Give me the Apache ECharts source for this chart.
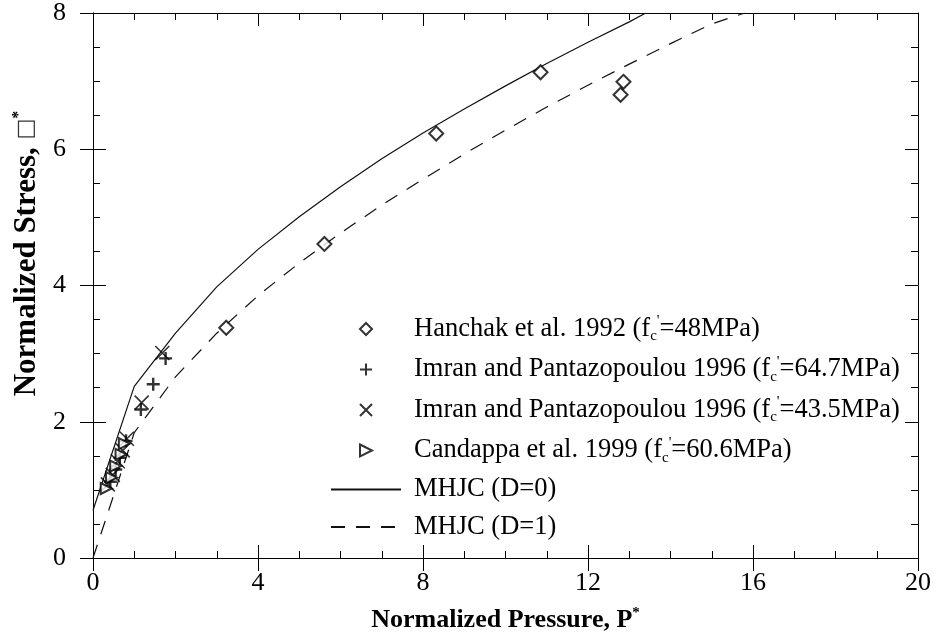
<!DOCTYPE html>
<html>
<head>
<meta charset="utf-8">
<script src="https://cdn.jsdelivr.net/npm/echarts@6/dist/echarts.min.js"></script>
<style>
html,body{margin:0;padding:0;background:#fff;}
#chart{width:937px;height:642px;}
</style>
</head>
<body>
<div id="chart"></div>
<script>
// ---- data ----
const xTicks = [0, 4, 8, 12, 16, 20];
const yTicks = [0, 2, 4, 6, 8];

const seriesNames = [
  "Hanchak et al. 1992 (fc'=48MPa)",
  "Imran and Pantazopoulou 1996 (fc'=64.7MPa)",
  "Imran and Pantazopoulou 1996 (fc'=43.5MPa)",
  "Candappa et al. 1999 (fc'=60.6MPa)",
  "MHJC (D=0)",
  "MHJC (D=1)"
];

const hanchak = [[3.23, 3.38], [5.61, 4.61], [8.32, 6.23], [10.85, 7.13], [12.79, 6.80], [12.86, 6.99]];
const imran647 = [[0.42, 1.12], [0.55, 1.30], [0.65, 1.47], [0.80, 1.72], [1.16, 2.18], [1.46, 2.55], [1.76, 2.93]];
const imran435 = [[0.36, 1.08], [0.48, 1.22], [0.60, 1.42], [0.72, 1.58], [0.82, 1.75], [1.18, 2.28], [1.68, 3.01]];
const candappa = [[0.32, 1.02], [0.45, 1.18], [0.55, 1.35], [0.68, 1.52], [0.76, 1.68]];

const mhjcD0 = [[0, 0.70], [1, 2.52], [2, 3.30], [3, 3.98], [4, 4.53], [5, 5.01], [6, 5.45], [7, 5.86],
  [8, 6.24], [9, 6.59], [10, 6.93], [11, 7.26], [12, 7.57], [13, 7.87], [13.4, 8.0]];
const mhjcD1 = [[0, 0], [1, 1.84], [2, 2.66], [3, 3.30], [4, 3.85], [5, 4.33], [6, 4.77], [7, 5.18],
  [8, 5.56], [9, 5.93], [10, 6.28], [11, 6.62], [12, 6.94], [13, 7.25], [14, 7.55], [15, 7.84], [15.8, 8.0]];

// ---- chart ----
const FONT = "'Liberation Serif', 'Times New Roman', serif";
const legendRich = {
  "Hanchak et al. 1992 (fc'=48MPa)": "{n|Hanchak et al. 1992 (f}{sub|c}{sup|'}{n|=48MPa)}",
  "Imran and Pantazopoulou 1996 (fc'=64.7MPa)": "{n|Imran and Pantazopoulou 1996 (f}{sub|c}{sup|'}{n|=64.7MPa)}",
  "Imran and Pantazopoulou 1996 (fc'=43.5MPa)": "{n|Imran and Pantazopoulou 1996 (f}{sub|c}{sup|'}{n|=43.5MPa)}",
  "Candappa et al. 1999 (fc'=60.6MPa)": "{n|Candappa et al. 1999 (f}{sub|c}{sup|'}{n|=60.6MPa)}",
  "MHJC (D=0)": "{n|MHJC (D=0)}",
  "MHJC (D=1)": "{n|MHJC (D=1)}"
};

const gridPos = {left: 93, right: 19, top: 13, bottom: 84};
const lineStyle = {color: '#000', width: 1};

function innerAxis(pos, gridIndex, min, max, interval) {
  return {
    type: 'value', gridIndex: gridIndex, position: pos, min: min, max: max, interval: interval,
    axisLine: {show: true, onZero: false, lineStyle: lineStyle},
    axisTick: {show: true, inside: true, length: 13, lineStyle: lineStyle},
    minorTick: {show: true, splitNumber: 4, length: 7, lineStyle: lineStyle},
    axisLabel: {show: false},
    splitLine: {show: false},
    minorSplitLine: {show: false}
  };
}

const option = {
  backgroundColor: '#fff',
  animation: false,
  grid: [
    Object.assign({}, gridPos),
    Object.assign({}, gridPos)
  ],
  xAxis: [
    innerAxis('bottom', 0, 0, 20, 4),
    innerAxis('top', 0, 0, 20, 4),
    {
      type: 'value', gridIndex: 1, position: 'bottom', min: 0, max: 20, interval: 4,
      axisLine: {show: true, onZero: false, lineStyle: lineStyle},
      axisTick: {show: true, inside: false, length: 13, lineStyle: lineStyle},
      minorTick: {show: false},
      splitLine: {show: false},
      axisLabel: {show: true, margin: 12, color: '#000', fontSize: 26, fontFamily: FONT,
        formatter: function (v) { return xTicks.indexOf(v) >= 0 ? String(v) : ''; }},
      name: '{b|Normalized Pressure, P}{s|*}',
      nameLocation: 'middle',
      nameGap: 48,
      nameTextStyle: {
        rich: {
          b: {fontSize: 26, fontWeight: 'bold', fontFamily: FONT, color: '#000', lineHeight: 28},
          s: {fontSize: 15, fontWeight: 'bold', fontFamily: FONT, color: '#000', verticalAlign: 'top', lineHeight: 28}
        }
      }
    }
  ],
  yAxis: [
    innerAxis('left', 0, 0, 8, 2),
    innerAxis('right', 0, 0, 8, 2),
    {
      type: 'value', gridIndex: 1, position: 'left', min: 0, max: 8, interval: 2,
      axisLine: {show: true, onZero: false, lineStyle: lineStyle},
      axisTick: {show: true, inside: false, length: 13, lineStyle: lineStyle},
      minorTick: {show: false},
      splitLine: {show: false},
      axisLabel: {show: true, margin: 27, color: '#000', fontSize: 26, fontFamily: FONT,
        formatter: function (v) { return yTicks.indexOf(v) >= 0 ? String(v) : ''; }},
      name: '{b|Normalized Stress, }{box|□}{s|*}',
      nameLocation: 'middle',
      nameRotate: 90,
      nameGap: 50,
      nameTextStyle: {
        padding: [0, 0, 0, 64],
        rich: {
          b: {fontSize: 31, fontWeight: 'bold', fontFamily: FONT, color: '#000', lineHeight: 32},
          box: {fontSize: 22, fontFamily: "'DejaVu Sans', sans-serif", color: '#333', lineHeight: 32},
          s: {fontSize: 16, fontWeight: 'bold', fontFamily: FONT, color: '#000', verticalAlign: 'top', lineHeight: 32}
        }
      }
    }
  ],
  legend: {
    orient: 'vertical',
    left: 330,
    top: 314,
    padding: 0,
    itemWidth: 70,
    itemHeight: 12,
    itemGap: 10.5,
    symbolKeepAspect: true,
    data: seriesNames,
    formatter: function (name) { return legendRich[name]; },
    textStyle: {
      padding: [0, 0, 0, 8],
      rich: {
        n: {fontSize: 26.5, fontFamily: FONT, color: '#000', lineHeight: 30},
        sub: {fontSize: 15, fontFamily: FONT, color: '#000', verticalAlign: 'bottom', lineHeight: 30},
        sup: {fontSize: 15, fontFamily: FONT, color: '#000', verticalAlign: 'top', lineHeight: 30}
      }
    }
  },
  series: [
    {
      name: seriesNames[0], type: 'scatter', xAxisIndex: 0, yAxisIndex: 0,
      symbol: 'path://M5,0L10,5L5,10L0,5Z', symbolSize: 14, symbolKeepAspect: true,
      itemStyle: {color: '#fff', borderColor: '#000', borderWidth: 2},
      data: hanchak, z: 5
    },
    {
      name: seriesNames[1], type: 'scatter', xAxisIndex: 0, yAxisIndex: 0,
      symbol: 'path://M5,0L5,10M0,5L10,5', symbolSize: 13, symbolKeepAspect: true,
      itemStyle: {color: 'rgba(0,0,0,0)', borderColor: '#000', borderWidth: 2.4},
      data: imran647, z: 5
    },
    {
      name: seriesNames[2], type: 'scatter', xAxisIndex: 0, yAxisIndex: 0,
      symbol: 'path://M0,0L10,10M10,0L0,10', symbolSize: 14, symbolKeepAspect: true,
      itemStyle: {color: 'rgba(0,0,0,0)', borderColor: '#000', borderWidth: 1.6},
      data: imran435, z: 5
    },
    {
      name: seriesNames[3], type: 'scatter', xAxisIndex: 0, yAxisIndex: 0,
      symbol: 'path://M0,0L10,5L0,10Z', symbolSize: 11, symbolKeepAspect: true,
      itemStyle: {color: '#fff', borderColor: '#000', borderWidth: 2},
      data: candappa, z: 5
    },
    {
      name: seriesNames[4], type: 'line', xAxisIndex: 0, yAxisIndex: 0,
      symbol: 'none', showSymbol: false, smooth: false,
      lineStyle: {color: '#111', width: 1.2, type: 'solid'},
      itemStyle: {color: '#111', opacity: 0},
      data: mhjcD0, z: 3
    },
    {
      name: seriesNames[5], type: 'line', xAxisIndex: 0, yAxisIndex: 0,
      symbol: 'none', showSymbol: false, smooth: false,
      lineStyle: {color: '#111', width: 1.2, type: [14, 11]},
      itemStyle: {color: '#111', opacity: 0},
      data: mhjcD1, z: 3
    }
  ]
};

const chart = echarts.init(document.getElementById('chart'), null, {renderer: 'canvas'});
chart.setOption(option);
</script>
</body>
</html>
